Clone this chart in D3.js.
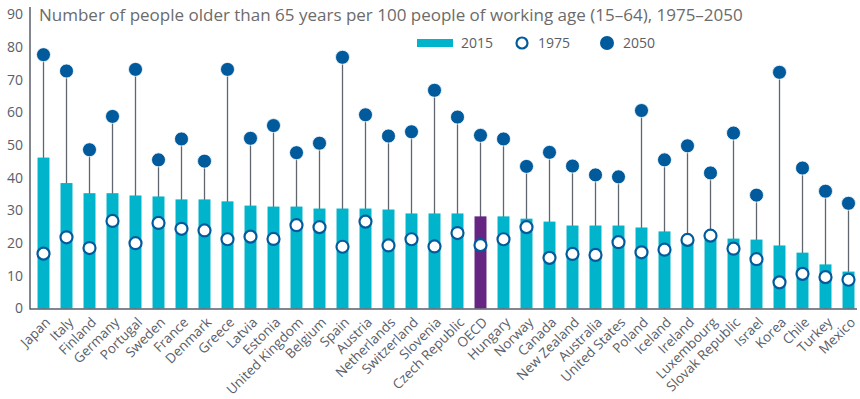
<!DOCTYPE html>
<html>
<head>
<meta charset="utf-8">
<script src="https://cdn.jsdelivr.net/npm/d3@7/dist/d3.min.js"></script>
<style>
  body { margin: 0; background: #fff; }
  svg text { font-family: "Open Sans", sans-serif; fill: #5a5e68; }
</style>
</head>
<body>
<div id="viz"></div>
<script>
var countries = ["Japan", "Italy", "Finland", "Germany", "Portugal", "Sweden", "France", "Denmark", "Greece",
  "Latvia", "Estonia", "United Kingdom", "Belgium", "Spain", "Austria", "Netherlands", "Switzerland",
  "Slovenia", "Czech Republic", "OECD", "Hungary", "Norway", "Canada", "New Zealand", "Australia",
  "United States", "Poland", "Iceland", "Ireland", "Luxembourg", "Slovak Republic", "Israel", "Korea",
  "Chile", "Turkey", "Mexico"];

var ratio2015 = [46.2, 38.4, 35.3, 35.3, 34.6, 34.3, 33.4, 33.4, 32.8, 31.5, 31.2, 31.2, 30.6, 30.6, 30.6,
  30.3, 29.1, 29.1, 29.1, 28.2, 28.2, 27.5, 26.6, 25.4, 25.4, 25.4, 24.8, 23.6, 21.8, 22.6, 21.4, 21.1,
  19.3, 17.1, 13.5, 11.3];

var ratio1975 = [16.8, 21.8, 18.5, 26.8, 20.0, 26.2, 24.4, 23.9, 21.2, 22.0, 21.3, 25.5, 24.9, 18.9, 26.6,
  19.3, 21.2, 19.0, 23.1, 19.4, 21.2, 24.9, 15.5, 16.7, 16.4, 20.3, 17.2, 18.0, 21.0, 22.3, 18.3, 15.1,
  8.0, 10.6, 9.6, 8.8];

var ratio2050 = [77.7, 72.7, 48.6, 58.8, 73.2, 45.5, 51.9, 45.1, 73.2, 52.1, 56.0, 47.7, 50.6, 76.9, 59.3,
  52.8, 54.1, 66.8, 58.6, 53.0, 51.9, 43.5, 47.8, 43.6, 40.9, 40.3, 60.6, 45.5, 49.8, 41.5, 53.7, 34.7,
  72.3, 43.0, 35.9, 32.2];

var yTicks = [0, 10, 20, 30, 40, 50, 60, 70, 80, 90];
var legendLabels = ["2015", "1975", "2050"];
var titleText = "Number of people older than 65 years per 100 people of working age (15\u201364), 1975\u20132050";

var width = 860,
    height = 399,
    axisX = 30,
    barColour = "#00b4cb",
    oecdColour = "#662483",
    dotColour = "#005a9c";

var svg = d3.select('#viz').append('svg')
    .attr('width', width)
    .attr('height', height);

var yScale = d3.scaleLinear()
    .domain([0, 90])
    .range([308.5, 14.5]);

var xScale = d3.scaleBand()
    .domain(countries)
    .range([32, 860])
    .paddingInner(0.48)
    .paddingOuter(0.24);

// y axis
var yAxis = d3.axisLeft(yScale)
    .tickValues(yTicks)
    .tickSize(0)
    .tickPadding(7);

var yGuide = svg.append('g')
    .attr('transform', 'translate(' + axisX + ',0)')
    .call(yAxis);
yGuide.select('.domain').remove();
yGuide.selectAll('text')
    .style('font-size', '14px')
    .style('fill', '#5a5e68');

svg.append('line')
    .attr('x1', axisX).attr('x2', axisX)
    .attr('y1', 7).attr('y2', yScale(0) + 1)
    .attr('stroke', '#5a5e68')
    .attr('stroke-width', 1.5);

// stems behind bars
svg.append('g').selectAll('line').data(countries)
  .enter().append('line')
    .attr('x1', function(d) { return xScale(d) + xScale.bandwidth() / 2; })
    .attr('x2', function(d) { return xScale(d) + xScale.bandwidth() / 2; })
    .attr('y1', function(d, i) { return yScale(ratio2050[i]); })
    .attr('y2', yScale(0))
    .attr('stroke', '#5f6670')
    .attr('stroke-width', 1.3);

// 2015 bars
svg.append('g').selectAll('rect').data(countries)
  .enter().append('rect')
    .attr('x', function(d) { return xScale(d); })
    .attr('width', xScale.bandwidth())
    .attr('y', function(d, i) { return yScale(ratio2015[i]); })
    .attr('height', function(d, i) { return yScale(0) - yScale(ratio2015[i]); })
    .attr('fill', function(d) { return d == "OECD" ? oecdColour : barColour; });

// x baseline
svg.append('line')
    .attr('x1', axisX).attr('x2', 857)
    .attr('y1', yScale(0) + 0.5).attr('y2', yScale(0) + 0.5)
    .attr('stroke', '#5a5e68')
    .attr('stroke-width', 1.5);

// 2050 dots
svg.append('g').selectAll('circle').data(countries)
  .enter().append('circle')
    .attr('cx', function(d) { return xScale(d) + xScale.bandwidth() / 2; })
    .attr('cy', function(d, i) { return yScale(ratio2050[i]); })
    .attr('r', 7)
    .attr('fill', dotColour)
    .attr('stroke', '#fff')
    .attr('stroke-width', 0.8);

// 1975 rings
svg.append('g').selectAll('circle').data(countries)
  .enter().append('circle')
    .attr('cx', function(d) { return xScale(d) + xScale.bandwidth() / 2; })
    .attr('cy', function(d, i) { return yScale(ratio1975[i]); })
    .attr('r', 6)
    .attr('fill', '#fff')
    .attr('stroke', dotColour)
    .attr('stroke-width', 2.2);

// x labels
svg.append('g').selectAll('text').data(countries)
  .enter().append('text')
    .attr('transform', function(d) {
        var x = xScale(d) + xScale.bandwidth() / 2 + 1;
        return 'translate(' + x + ',' + (yScale(0) + 8) + ') rotate(-45)';
    })
    .attr('text-anchor', 'end')
    .attr('dy', '0.7em')
    .style('font-size', '13.5px')
    .text(function(d) { return d; });

// title
svg.append('text')
    .attr('x', 39)
    .attr('y', 21)
    .style('font-size', '17px')
    .style('fill', '#6b6b6b')
    .text(titleText);

// legend
var legend = svg.append('g');
legend.append('rect')
    .attr('x', 417).attr('y', 39)
    .attr('width', 36).attr('height', 8)
    .attr('fill', barColour);
legend.append('circle')
    .attr('cx', 522).attr('cy', 43).attr('r', 5.5)
    .attr('fill', '#fff').attr('stroke', dotColour).attr('stroke-width', 2.2);
legend.append('circle')
    .attr('cx', 607).attr('cy', 43).attr('r', 7)
    .attr('fill', dotColour);
legend.selectAll('text.lbl').data(legendLabels)
  .enter().append('text')
    .attr('class', 'lbl')
    .attr('x', function(d, i) { return [461, 538, 623][i]; })
    .attr('y', 48)
    .style('font-size', '14px')
    .text(function(d) { return d; });
</script>
</body>
</html>
